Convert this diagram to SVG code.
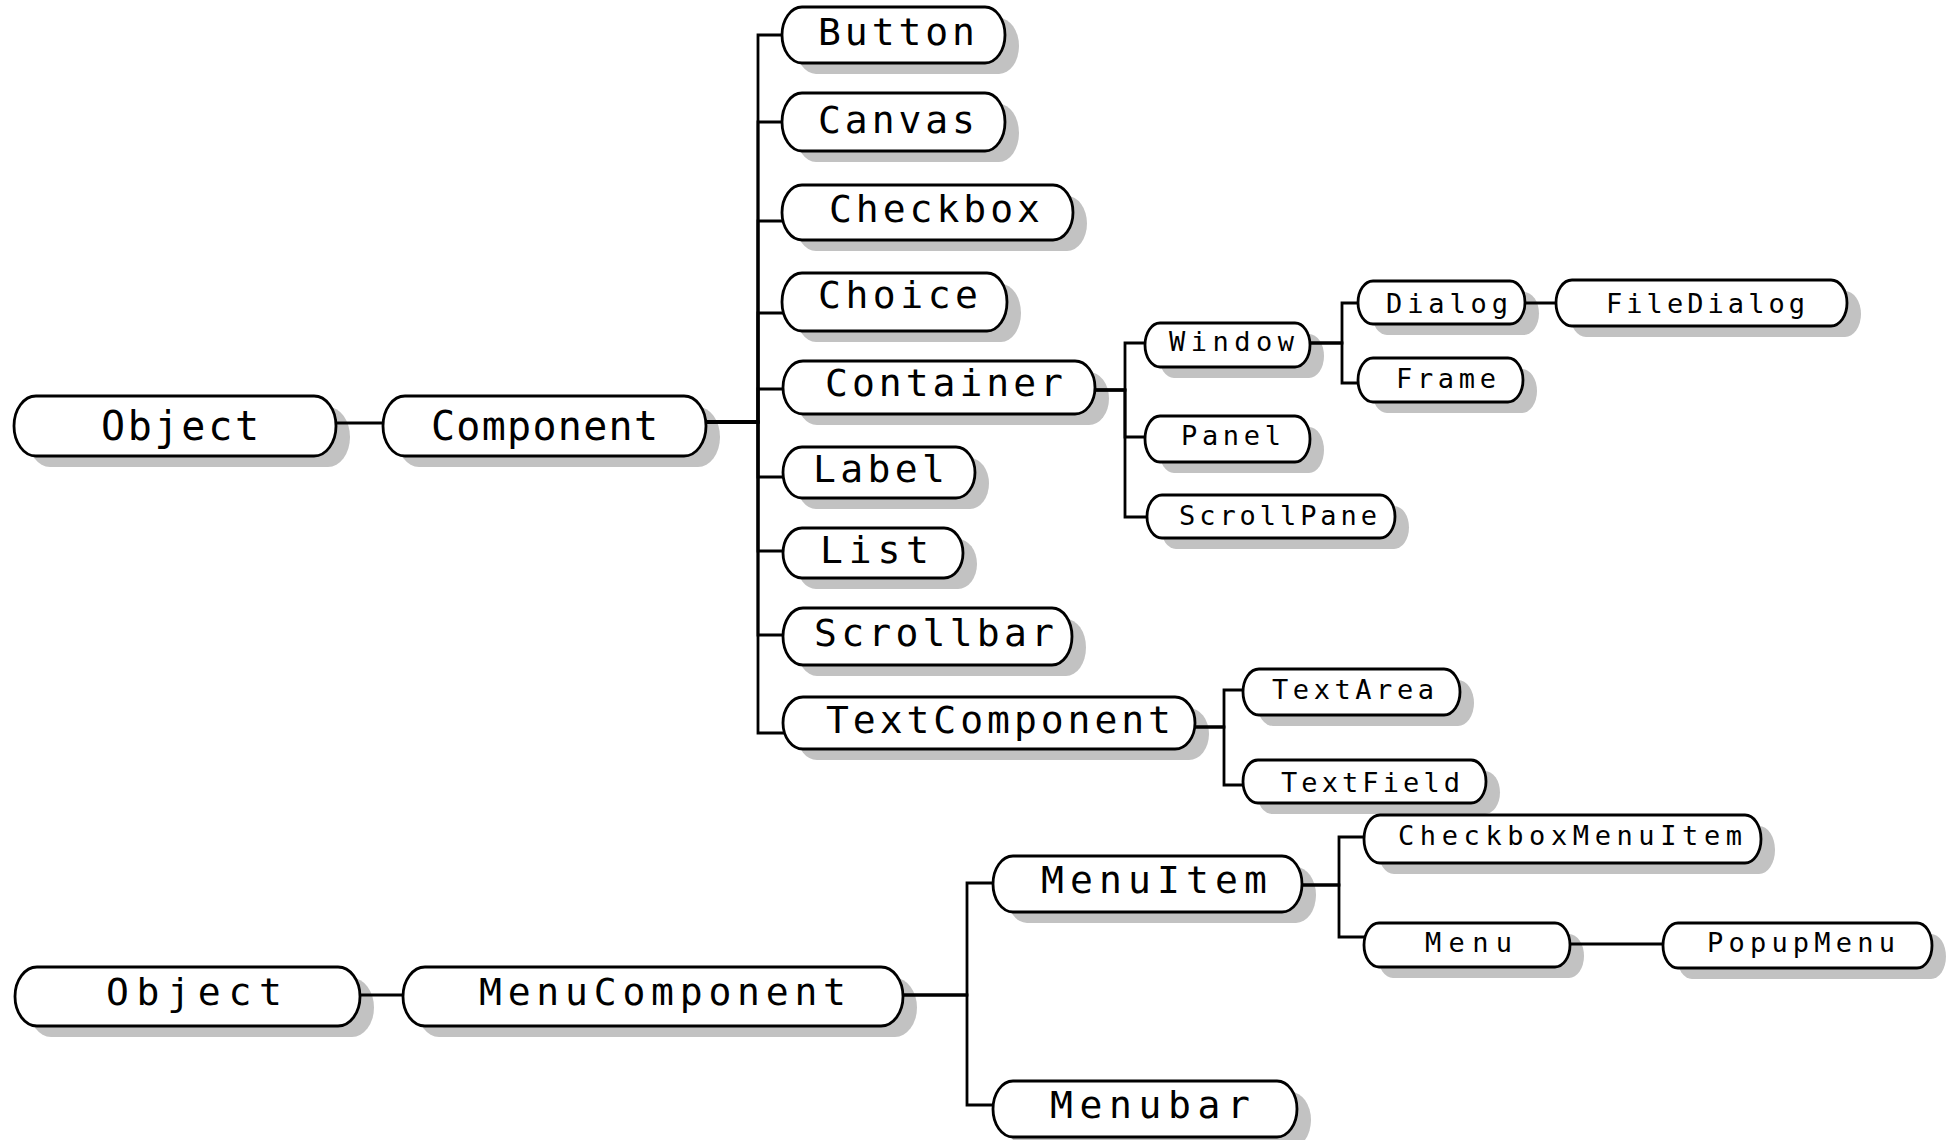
<svg xmlns="http://www.w3.org/2000/svg" width="1946" height="1140" viewBox="0 0 1946 1140">
  <style>
    .pill { fill: #ffffff; stroke: #000000; stroke-width: 2.8; }
    .shadow { fill: #c2c2c2; }
    .conn { fill: none; stroke: #000000; stroke-width: 2.8; stroke-linejoin: miter; stroke-linecap: square; }
    .lbl { font-family: "DejaVu Sans Mono", "Liberation Mono", monospace; fill: #000000; }
    .root { font-size: 40px; }
    .big { font-size: 38px; }
    .small { font-size: 27px; }
  </style>

  <rect x="0" y="0" width="1946" height="1140" fill="#ffffff"/>

  <!-- drop shadows behind every class bubble -->
  <g id="shadows" class="shadow">
    <rect x="28" y="407" width="322" height="60" rx="22" ry="30"/>
    <rect x="397" y="407" width="323" height="60" rx="22" ry="30"/>
    <rect x="796" y="18" width="223" height="56" rx="20" ry="28"/>
    <rect x="796" y="104" width="223" height="58" rx="20" ry="29"/>
    <rect x="796" y="196" width="291" height="55" rx="20" ry="27.5"/>
    <rect x="796" y="284" width="225" height="58" rx="20" ry="29"/>
    <rect x="797" y="372" width="312" height="53" rx="20" ry="26.5"/>
    <rect x="797" y="458" width="192" height="51" rx="19" ry="25.5"/>
    <rect x="797" y="539" width="180" height="50" rx="19" ry="25"/>
    <rect x="797" y="619" width="289" height="57" rx="20" ry="28.5"/>
    <rect x="797" y="708" width="412" height="52" rx="20" ry="26"/>
    <rect x="1159" y="334" width="165" height="44" rx="15" ry="22"/>
    <rect x="1159" y="427" width="165" height="46" rx="15" ry="23"/>
    <rect x="1161" y="506" width="248" height="43" rx="15" ry="21.5"/>
    <rect x="1372" y="292" width="167" height="43" rx="15" ry="21.5"/>
    <rect x="1372" y="369" width="165" height="44" rx="15" ry="22"/>
    <rect x="1570" y="291" width="291" height="46" rx="16" ry="23"/>
    <rect x="1257" y="680" width="217" height="46" rx="16" ry="23"/>
    <rect x="1257" y="771" width="243" height="43" rx="15" ry="21.5"/>
    <rect x="29" y="978" width="345" height="59" rx="22" ry="29.5"/>
    <rect x="417" y="978" width="500" height="59" rx="22" ry="29.5"/>
    <rect x="1007" y="867" width="309" height="56" rx="20" ry="28"/>
    <rect x="1007" y="1092" width="304" height="56" rx="20" ry="28"/>
    <rect x="1378" y="826" width="397" height="48" rx="16" ry="24"/>
    <rect x="1378" y="934" width="206" height="44" rx="15" ry="22"/>
    <rect x="1677" y="934" width="269" height="45" rx="15" ry="22.5"/>
  </g>

  <!-- inheritance connectors -->
  <g id="connectors" class="conn">
    <path d="M336,423 H383"/>
    <path d="M706,422 H758 V35 H782"/>
    <path d="M706,422 H758 V122 H782"/>
    <path d="M706,422 H758 V221 H782"/>
    <path d="M706,422 H758 V313 H782"/>
    <path d="M706,422 H758 V389 H783"/>
    <path d="M706,422 H758 V477 H783"/>
    <path d="M706,422 H758 V551 H783"/>
    <path d="M706,422 H758 V635 H783"/>
    <path d="M706,422 H758 V733 H783"/>
    <path d="M1095,390 H1125 V343 H1145"/>
    <path d="M1095,390 H1125 V437 H1145"/>
    <path d="M1095,390 H1125 V517 H1147"/>
    <path d="M1310,343 H1342 V303 H1358"/>
    <path d="M1310,343 H1342 V383 H1358"/>
    <path d="M1525,303 H1556"/>
    <path d="M1195,727 H1224 V690 H1243"/>
    <path d="M1195,727 H1224 V785 H1243"/>
    <path d="M360,995 H403"/>
    <path d="M903,995 H967 V883 H993"/>
    <path d="M903,995 H967 V1105 H993"/>
    <path d="M1302,885 H1339 V837 H1364"/>
    <path d="M1302,885 H1339 V937 H1364"/>
    <path d="M1570,944 H1663"/>
  </g>

  <!-- java.awt.Component hierarchy -->
  <g id="object-1">
    <rect class="pill" x="14" y="396" width="322" height="60" rx="22" ry="30"/>
    <text class="lbl root" x="101" y="440" textLength="158" lengthAdjust="spacing">Object</text>
  </g>
  <g id="component">
    <rect class="pill" x="383" y="396" width="323" height="60" rx="22" ry="30"/>
    <text class="lbl root" x="431" y="440" textLength="227" lengthAdjust="spacing">Component</text>
  </g>
  <g id="button">
    <rect class="pill" x="782" y="7" width="223" height="56" rx="20" ry="28"/>
    <text class="lbl big" x="818" y="45" textLength="157" lengthAdjust="spacing">Button</text>
  </g>
  <g id="canvas">
    <rect class="pill" x="782" y="93" width="223" height="58" rx="20" ry="29"/>
    <text class="lbl big" x="818" y="133" textLength="157" lengthAdjust="spacing">Canvas</text>
  </g>
  <g id="checkbox">
    <rect class="pill" x="782" y="185" width="291" height="55" rx="20" ry="27.5"/>
    <text class="lbl big" x="829" y="222" textLength="211" lengthAdjust="spacing">Checkbox</text>
  </g>
  <g id="choice">
    <rect class="pill" x="782" y="273" width="225" height="58" rx="20" ry="29"/>
    <text class="lbl big" x="818" y="308" textLength="160" lengthAdjust="spacing">Choice</text>
  </g>
  <g id="container">
    <rect class="pill" x="783" y="361" width="312" height="53" rx="20" ry="26.5"/>
    <text class="lbl big" x="825" y="396" textLength="238" lengthAdjust="spacing">Container</text>
  </g>
  <g id="label">
    <rect class="pill" x="783" y="447" width="192" height="51" rx="19" ry="25.5"/>
    <text class="lbl big" x="813" y="482" textLength="132" lengthAdjust="spacing">Label</text>
  </g>
  <g id="list">
    <rect class="pill" x="783" y="528" width="180" height="50" rx="19" ry="25"/>
    <text class="lbl big" x="820" y="563" textLength="109" lengthAdjust="spacing">List</text>
  </g>
  <g id="scrollbar">
    <rect class="pill" x="783" y="608" width="289" height="57" rx="20" ry="28.5"/>
    <text class="lbl big" x="814" y="646" textLength="240" lengthAdjust="spacing">Scrollbar</text>
  </g>
  <g id="textcomponent">
    <rect class="pill" x="783" y="697" width="412" height="52" rx="20" ry="26"/>
    <text class="lbl big" x="826" y="733" textLength="345" lengthAdjust="spacing">TextComponent</text>
  </g>
  <g id="window">
    <rect class="pill" x="1145" y="323" width="165" height="44" rx="15" ry="22"/>
    <text class="lbl small" x="1169" y="351" textLength="125" lengthAdjust="spacing">Window</text>
  </g>
  <g id="panel">
    <rect class="pill" x="1145" y="416" width="165" height="46" rx="15" ry="23"/>
    <text class="lbl small" x="1181" y="445" textLength="100" lengthAdjust="spacing">Panel</text>
  </g>
  <g id="scrollpane">
    <rect class="pill" x="1147" y="495" width="248" height="43" rx="15" ry="21.5"/>
    <text class="lbl small" x="1179" y="525" textLength="198" lengthAdjust="spacing">ScrollPane</text>
  </g>
  <g id="dialog">
    <rect class="pill" x="1358" y="281" width="167" height="43" rx="15" ry="21.5"/>
    <text class="lbl small" x="1386" y="313" textLength="122" lengthAdjust="spacing">Dialog</text>
  </g>
  <g id="frame">
    <rect class="pill" x="1358" y="358" width="165" height="44" rx="15" ry="22"/>
    <text class="lbl small" x="1396" y="388" textLength="100" lengthAdjust="spacing">Frame</text>
  </g>
  <g id="filedialog">
    <rect class="pill" x="1556" y="280" width="291" height="46" rx="16" ry="23"/>
    <text class="lbl small" x="1606" y="313" textLength="199" lengthAdjust="spacing">FileDialog</text>
  </g>
  <g id="textarea">
    <rect class="pill" x="1243" y="669" width="217" height="46" rx="16" ry="23"/>
    <text class="lbl small" x="1272" y="699" textLength="162" lengthAdjust="spacing">TextArea</text>
  </g>
  <g id="textfield">
    <rect class="pill" x="1243" y="760" width="243" height="43" rx="15" ry="21.5"/>
    <text class="lbl small" x="1281" y="792" textLength="179" lengthAdjust="spacing">TextField</text>
  </g>

  <!-- java.awt.MenuComponent hierarchy -->
  <g id="object-2">
    <rect class="pill" x="15" y="967" width="345" height="59" rx="22" ry="29.5"/>
    <text class="lbl big" x="106" y="1005" textLength="176" lengthAdjust="spacing">Object</text>
  </g>
  <g id="menucomponent">
    <rect class="pill" x="403" y="967" width="500" height="59" rx="22" ry="29.5"/>
    <text class="lbl big" x="479" y="1005" textLength="367" lengthAdjust="spacing">MenuComponent</text>
  </g>
  <g id="menuitem">
    <rect class="pill" x="993" y="856" width="309" height="56" rx="20" ry="28"/>
    <text class="lbl big" x="1041" y="893" textLength="226" lengthAdjust="spacing">MenuItem</text>
  </g>
  <g id="menubar">
    <rect class="pill" x="993" y="1081" width="304" height="56" rx="20" ry="28"/>
    <text class="lbl big" x="1050" y="1118" textLength="200" lengthAdjust="spacing">Menubar</text>
  </g>
  <g id="checkboxmenuitem">
    <rect class="pill" x="1364" y="815" width="397" height="48" rx="16" ry="24"/>
    <text class="lbl small" x="1398" y="845" textLength="344" lengthAdjust="spacing">CheckboxMenuItem</text>
  </g>
  <g id="menu">
    <rect class="pill" x="1364" y="923" width="206" height="44" rx="15" ry="22"/>
    <text class="lbl small" x="1425" y="952" textLength="87" lengthAdjust="spacing">Menu</text>
  </g>
  <g id="popupmenu">
    <rect class="pill" x="1663" y="923" width="269" height="45" rx="15" ry="22.5"/>
    <text class="lbl small" x="1707" y="952" textLength="188" lengthAdjust="spacing">PopupMenu</text>
  </g>
</svg>
